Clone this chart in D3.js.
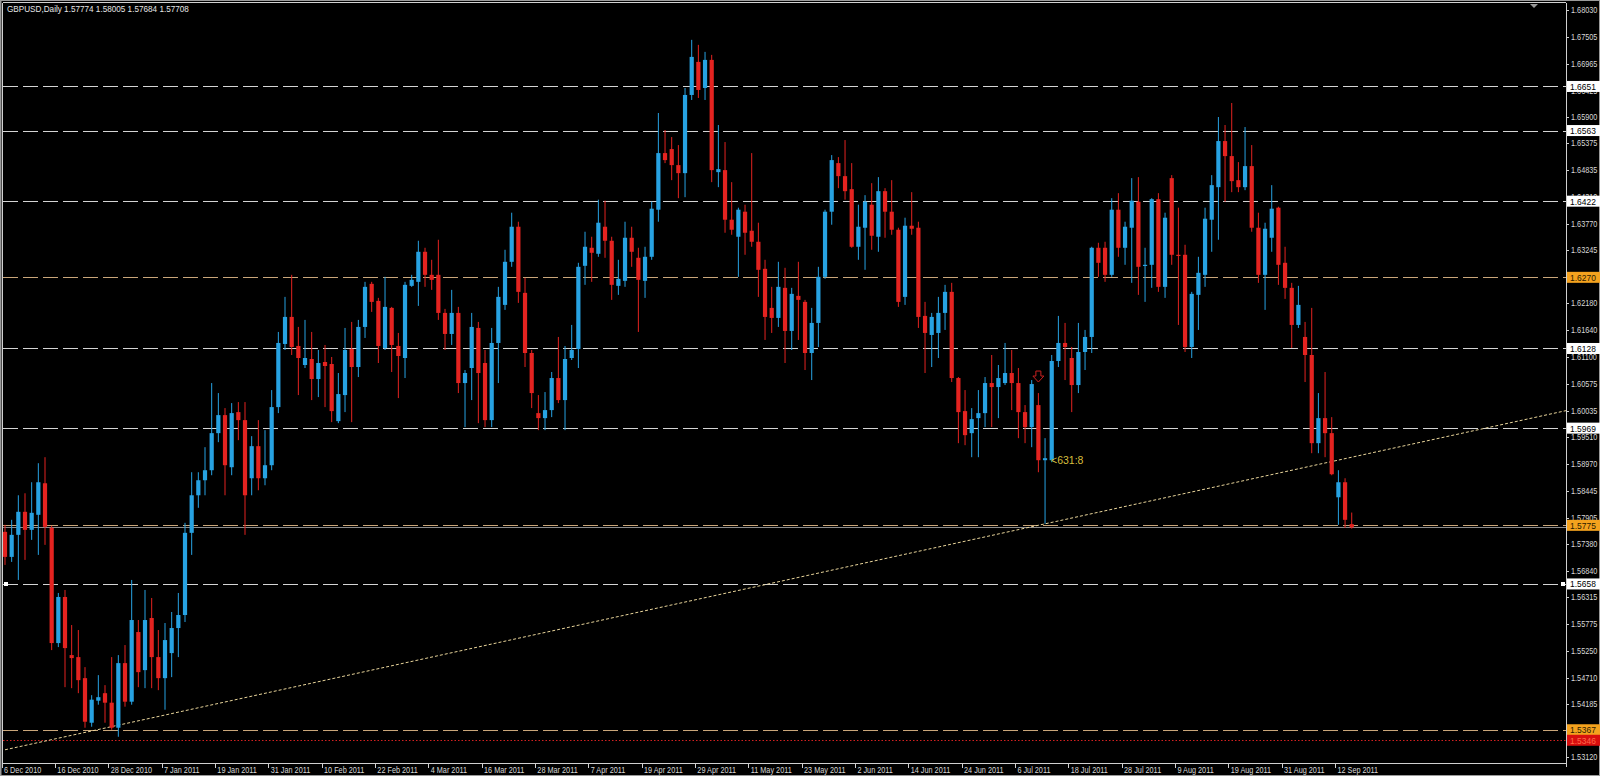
<!DOCTYPE html>
<html><head><meta charset="utf-8">
<script src="https://cdn.jsdelivr.net/npm/d3@7"></script>
<style>html,body{margin:0;padding:0;background:#000;overflow:hidden}svg{display:block}</style>
</head><body><svg id="c" width="1600" height="776"></svg>
<script>
// ---------- data ----------
const opens = [1.5762,1.5712,1.5756,1.5802,1.5766,1.5796,1.5859,1.5770,1.5540,1.5632,
1.5516,1.5512,1.5470,1.5381,1.5425,1.5440,1.5421,1.5371,1.5500,1.5423,
1.5562,1.5486,1.5590,1.5512,1.5470,1.5520,1.5570,1.5596,1.5760,1.5835,
1.5865,1.5885,1.5959,1.5995,1.5891,1.6001,1.5985,1.5869,1.5933,1.5869,
1.5895,1.6011,1.6137,1.6191,1.6133,1.6095,1.6107,1.6067,1.6101,1.6097,
1.5983,1.6035,1.6127,1.6091,1.6171,1.6257,1.6223,1.6129,1.6209,1.6133,
1.6109,1.6253,1.6261,1.6321,1.6275,1.6275,1.6199,1.6157,1.6199,1.6059,
1.6089,1.6169,1.6099,1.5985,1.6139,1.6215,1.6301,1.6371,1.6239,1.6119,
1.5999,1.5989,1.6005,1.6069,1.6025,1.6109,1.6127,1.6293,1.6329,1.6317,
1.6371,1.6343,1.6253,1.6263,1.6349,1.6309,1.6263,1.6311,1.6405,1.6518,
1.6526,1.6494,1.6478,1.6634,1.6700,1.6648,1.6704,1.6480,1.6484,1.6385,
1.6351,1.6401,1.6363,1.6341,1.6287,1.6209,1.6189,1.6249,1.6163,1.6233,
1.6221,1.6119,1.6179,1.6271,1.6401,1.6498,1.6472,1.6446,1.6331,1.6369,
1.6415,1.6351,1.6442,1.6401,1.6365,1.6231,1.6373,1.6369,1.6193,1.6155,
1.6159,1.6199,1.6241,1.6069,1.6003,1.5959,1.5989,1.5999,1.6059,1.6051,
1.6059,1.6079,1.6059,1.6001,1.5971,1.6015,1.5905,1.5905,1.6103,1.6139,
1.6109,1.6055,1.6121,1.6151,1.6329,1.6329,1.6275,1.6405,1.6329,1.6369,
1.6421,1.6293,1.6295,1.6426,1.6251,1.6468,1.6315,1.6315,1.6131,1.6235,
1.6275,1.6385,1.6450,1.6542,1.6512,1.6464,1.6450,1.6492,1.6369,1.6275,
1.6349,1.6409,1.6299,1.6249,1.6175,1.6151,1.6115,1.5939,1.5989,1.5959,
1.5831,1.5861,1.57774];
const highs = [1.5776,1.5786,1.5835,1.5839,1.5861,1.5899,1.5911,1.5774,1.5640,1.5646,
1.5576,1.5566,1.5492,1.5436,1.5476,1.5456,1.5512,1.5516,1.5536,1.5666,
1.5586,1.5646,1.5630,1.5566,1.5580,1.5602,1.5640,1.5780,1.5881,1.5881,
1.5931,1.6059,1.6039,1.6009,1.6019,1.6021,1.6021,1.5953,1.5985,1.5965,
1.6045,1.6161,1.6231,1.6275,1.6171,1.6185,1.6161,1.6125,1.6135,1.6111,
1.6079,1.6169,1.6181,1.6185,1.6261,1.6261,1.6229,1.6271,1.6211,1.6159,
1.6261,1.6275,1.6343,1.6329,1.6305,1.6345,1.6207,1.6245,1.6211,1.6085,
1.6199,1.6181,1.6125,1.6169,1.6251,1.6325,1.6399,1.6381,1.6269,1.6125,
1.6035,1.6041,1.6081,1.6151,1.6133,1.6175,1.6299,1.6361,1.6351,1.6425,
1.6423,1.6351,1.6305,1.6381,1.6371,1.6329,1.6331,1.6421,1.6598,1.6564,
1.6550,1.6534,1.6648,1.6744,1.6734,1.6720,1.6714,1.6574,1.6540,1.6460,
1.6409,1.6415,1.6518,1.6379,1.6305,1.6251,1.6301,1.6289,1.6249,1.6301,
1.6225,1.6209,1.6291,1.6405,1.6514,1.6510,1.6544,1.6498,1.6415,1.6434,
1.6458,1.6470,1.6448,1.6464,1.6369,1.6389,1.6440,1.6381,1.6221,1.6199,
1.6231,1.6255,1.6259,1.6071,1.6045,1.6009,1.6045,1.6071,1.6115,1.6095,
1.6139,1.6125,1.6089,1.6015,1.6065,1.6039,1.5949,1.6115,1.6193,1.6179,
1.6131,1.6179,1.6165,1.6331,1.6339,1.6341,1.6428,1.6438,1.6381,1.6468,
1.6470,1.6329,1.6428,1.6438,1.6399,1.6474,1.6409,1.6335,1.6241,1.6311,
1.6409,1.6474,1.6590,1.6574,1.6618,1.6500,1.6570,1.6534,1.6399,1.6379,
1.6454,1.6411,1.6331,1.6259,1.6253,1.6181,1.6209,1.6039,1.6081,1.5991,
1.5885,1.5869,1.58005];
const lows = [1.5696,1.5702,1.5666,1.5706,1.5746,1.5716,1.5736,1.5526,1.5532,1.5452,
1.5450,1.5440,1.5371,1.5373,1.5417,1.5381,1.5367,1.5353,1.5413,1.5417,
1.5452,1.5450,1.5450,1.5446,1.5407,1.5472,1.5512,1.5582,1.5716,1.5810,
1.5835,1.5875,1.5941,1.5835,1.5875,1.5945,1.5756,1.5835,1.5845,1.5855,
1.5885,1.5999,1.6125,1.6115,1.6035,1.6089,1.6025,1.6031,1.6011,1.5981,
1.5979,1.6001,1.5981,1.6071,1.6149,1.6201,1.6099,1.6125,1.6081,1.6029,
1.6069,1.6251,1.6213,1.6251,1.6245,1.6185,1.6125,1.6135,1.6039,1.5971,
1.6025,1.5979,1.5971,1.5971,1.6059,1.6205,1.6291,1.6219,1.6091,1.6009,
1.5965,1.5965,1.5991,1.6019,1.5965,1.6105,1.6089,1.6255,1.6261,1.6311,
1.6309,1.6225,1.6235,1.6251,1.6291,1.6161,1.6229,1.6305,1.6381,1.6498,
1.6464,1.6428,1.6430,1.6624,1.6628,1.6624,1.6460,1.6450,1.6359,1.6355,
1.6271,1.6315,1.6331,1.6231,1.6145,1.6159,1.6171,1.6099,1.6125,1.6145,
1.6085,1.6065,1.6131,1.6267,1.6375,1.6448,1.6425,1.6329,1.6305,1.6285,
1.6325,1.6321,1.6349,1.6355,1.6211,1.6215,1.6355,1.6169,1.6079,1.6091,
1.6109,1.6165,1.6061,1.5939,1.5935,1.5911,1.5911,1.5971,1.5971,1.5989,
1.6055,1.6005,1.5949,1.5939,1.5931,1.5881,1.5778,1.5901,1.6091,1.6065,
1.6001,1.6039,1.6085,1.6119,1.6271,1.6261,1.6271,1.6311,1.6295,1.6259,
1.6235,1.6221,1.6249,1.6241,1.6229,1.6295,1.6175,1.6121,1.6109,1.6165,
1.6251,1.6321,1.6345,1.6421,1.6440,1.6440,1.6444,1.6361,1.6259,1.6205,
1.6321,1.6255,1.6227,1.6129,1.6169,1.6061,1.5919,1.5919,1.5911,1.5875,
1.5776,1.5770,1.57684];
const closes = [1.5712,1.5756,1.5802,1.5766,1.5800,1.5861,1.5772,1.5540,1.5632,1.5530,
1.5510,1.5466,1.5383,1.5427,1.5432,1.5421,1.5371,1.5500,1.5423,1.5586,
1.5482,1.5586,1.5512,1.5470,1.5546,1.5570,1.5596,1.5760,1.5835,1.5865,
1.5885,1.5959,1.5995,1.5895,1.5999,1.5985,1.5835,1.5933,1.5869,1.5895,
1.6011,1.6139,1.6191,1.6131,1.6109,1.6109,1.6067,1.6099,1.6093,1.6003,
1.6037,1.6125,1.6091,1.6171,1.6251,1.6221,1.6133,1.6211,1.6135,1.6113,
1.6255,1.6265,1.6321,1.6275,1.6265,1.6199,1.6157,1.6199,1.6059,1.6079,
1.6171,1.6079,1.5985,1.6139,1.6231,1.6301,1.6371,1.6241,1.6119,1.6039,
1.5989,1.6005,1.6069,1.6025,1.6107,1.6125,1.6291,1.6331,1.6319,1.6379,
1.6343,1.6255,1.6267,1.6349,1.6321,1.6265,1.6311,1.6407,1.6518,1.6504,
1.6494,1.6478,1.6634,1.6710,1.6644,1.6704,1.6484,1.6486,1.6385,1.6365,
1.6405,1.6359,1.6341,1.6285,1.6191,1.6189,1.6251,1.6163,1.6237,1.6225,
1.6119,1.6179,1.6271,1.6401,1.6504,1.6472,1.6442,1.6331,1.6371,1.6421,
1.6353,1.6442,1.6401,1.6365,1.6221,1.6373,1.6367,1.6191,1.6159,1.6191,
1.6199,1.6241,1.6069,1.6001,1.5955,1.5987,1.5999,1.6059,1.6051,1.6069,
1.6079,1.6059,1.6001,1.5971,1.6057,1.5905,1.5909,1.6103,1.6139,1.6131,
1.6055,1.6121,1.6151,1.6329,1.6299,1.6275,1.6405,1.6329,1.6371,1.6423,
1.6291,1.6295,1.6426,1.6251,1.6389,1.6315,1.6313,1.6131,1.6237,1.6279,
1.6387,1.6454,1.6542,1.6512,1.6462,1.6450,1.6492,1.6369,1.6275,1.6367,
1.6407,1.6295,1.6249,1.6175,1.6215,1.6115,1.5939,1.5989,1.5959,1.5877,
1.5861,1.5786,1.57708];

const dateLabels = ["6 Dec 2010","16 Dec 2010","28 Dec 2010","7 Jan 2011","19 Jan 2011","31 Jan 2011",
"10 Feb 2011","22 Feb 2011","4 Mar 2011","16 Mar 2011","28 Mar 2011","7 Apr 2011","19 Apr 2011",
"29 Apr 2011","11 May 2011","23 May 2011","2 Jun 2011","14 Jun 2011","24 Jun 2011","6 Jul 2011",
"18 Jul 2011","28 Jul 2011","9 Aug 2011","19 Aug 2011","31 Aug 2011","12 Sep 2011"];
const dateLabelBars = [0,8,16,24,32,40,48,56,64,72,80,88,96,104,112,120,128,136,144,152,160,168,176,184,192,200];

const priceTicks = ["1.68030","1.67505","1.66965","1.66425","1.65900","1.65375","1.64835","1.64310","1.63770",
"1.63245","1.62705","1.62180","1.61640","1.61100","1.60575","1.60035","1.59510","1.58970","1.58445",
"1.57905","1.57380","1.56840","1.56315","1.55775","1.55250","1.54710","1.54185","1.53645","1.53120"];

const levelPrices = [1.6651,1.6563,1.6422,1.6270,1.6128,1.5969,1.5775,1.5658,1.5367,1.5346];
const levelLabels = ["1.6651","1.6563","1.6422","1.6270","1.6128","1.5969","1.5775","1.5658","1.5367","1.5346"];
const levelKinds = ["white","white","white","orange","white","white","orange","white","orange","red"];

const bidPrice = 1.57708;
const trendBars = [0,156];
const trendPrices = [1.5327,1.5778];

const titleText = "GBPUSD,Daily  1.57774 1.58005 1.57684 1.57708";
const noteText = "<631:8";
const noteBar = 156, notePrice = 1.5905;
const arrowBar = 155, arrowPrice = 1.6071;

// ---------- drawing ----------
const svg = d3.select("#c");
const P = {left:3, right:1566, top:3, bottom:763};
const x = d3.scaleLinear().domain([0,202]).range([5, 5+202*6.667]);
const y = d3.scaleLinear().domain([1.5312,1.6803]).range([757.3,10.3]);
const FONT = "'Liberation Sans', Arial, sans-serif";

svg.append("rect").attr("width",1600).attr("height",776).attr("fill","#000");
// outer frame
svg.append("rect").attr("x",0.5).attr("y",0.5).attr("width",1599).attr("height",775)
  .attr("fill","none").attr("stroke","#9a9a9a");
svg.append("line").attr("x1",1).attr("x2",1).attr("y1",0).attr("y2",776).attr("stroke","#9a9a9a");

const clip = svg.append("defs").append("clipPath").attr("id","pc");
clip.append("rect").attr("x",P.left).attr("y",P.top).attr("width",P.right-P.left).attr("height",P.bottom-P.top);
const g = svg.append("g").attr("clip-path","url(#pc)");

// level lines
const lvlColor = {white:"#d4d4d4", orange:"#c9a67a", red:"#d42020"};
levelPrices.forEach((p,i)=>{
  const k = levelKinds[i];
  g.append("line").attr("x1",P.left).attr("x2",P.right)
   .attr("y1",Math.round(y(p))+0.5).attr("y2",Math.round(y(p))+0.5)
   .attr("stroke",lvlColor[k]).attr("stroke-width",1)
   .attr("stroke-dasharray", k==="red" ? "1.5,2" : "15,5");
});
// bid line
g.append("line").attr("x1",P.left).attr("x2",P.right)
  .attr("y1",Math.round(y(bidPrice))+0.5).attr("y2",Math.round(y(bidPrice))+0.5)
  .attr("stroke","#8c8c8c").attr("stroke-width",1);

// trend line (ray to right edge)
const tx0 = x(trendBars[0]), ty0 = y(trendPrices[0]);
const tx1 = x(trendBars[1]), ty1 = y(trendPrices[1]);
const slope = (ty1-ty0)/(tx1-tx0);
g.append("line").attr("x1",tx0).attr("y1",ty0)
  .attr("x2",P.right).attr("y2",ty0+slope*(P.right-tx0))
  .attr("stroke","#e8d49a").attr("stroke-width",1).attr("stroke-dasharray","3,2");

// candles
const bull = "#27a2e2", bear = "#e42320";
const idx = d3.range(opens.length);
g.selectAll("line.wick").data(idx).join("line").attr("class","wick")
  .attr("x1",i=>x(i)).attr("x2",i=>x(i))
  .attr("y1",i=>y(highs[i])).attr("y2",i=>y(lows[i]))
  .attr("stroke",i=>closes[i]>=opens[i]?bull:bear).attr("stroke-width",1);
g.selectAll("rect.body").data(idx).join("rect").attr("class","body")
  .attr("x",i=>x(i)-2.1).attr("width",4.2)
  .attr("y",i=>y(Math.max(opens[i],closes[i])))
  .attr("height",i=>Math.max(1.2,Math.abs(y(opens[i])-y(closes[i]))))
  .attr("fill",i=>closes[i]>=opens[i]?bull:bear);

// selected-line markers on 1.5658
const selY = Math.round(y(levelPrices[7]));
svg.append("rect").attr("x",4).attr("y",selY-2).attr("width",4).attr("height",4).attr("fill","#fff");
svg.append("rect").attr("x",1561).attr("y",selY-2).attr("width",4).attr("height",4).attr("fill","#fff");

// note label and arrow symbol
svg.append("text").attr("x",x(noteBar)+6).attr("y",y(notePrice)+4)
  .attr("font-family",FONT).attr("font-size",10.5).attr("fill","#d6bf3e").text(noteText);
const ax = x(arrowBar), ay = y(arrowPrice);
svg.append("path").attr("d",`M${ax-2.5},${ay-6} h5 v5 h3 l-5.5,6 l-5.5,-6 h3 z`)
  .attr("fill","none").attr("stroke","#c82020").attr("stroke-width",1);

// plot border
svg.append("line").attr("x1",P.left).attr("x2",P.right).attr("y1",P.top-0.5).attr("y2",P.top-0.5).attr("stroke","#d0d0d0");
svg.append("line").attr("x1",P.left-0.5).attr("x2",P.left-0.5).attr("y1",P.top).attr("y2",P.bottom).attr("stroke","#d0d0d0");
svg.append("line").attr("x1",P.left).attr("x2",P.right).attr("y1",P.bottom+0.5).attr("y2",P.bottom+0.5).attr("stroke","#d0d0d0");
svg.append("line").attr("x1",P.right+0.5).attr("x2",P.right+0.5).attr("y1",P.top).attr("y2",P.bottom+4).attr("stroke","#d0d0d0");

// chart-shift triangle
svg.append("path").attr("d","M1530,4 h8 l-4,4 z").attr("fill","#9a9a9a");

// price axis
priceTicks.forEach(t=>{
  const yy = y(+t);
  svg.append("line").attr("x1",P.right).attr("x2",P.right+3).attr("y1",Math.round(yy)+0.5).attr("y2",Math.round(yy)+0.5).attr("stroke","#d0d0d0");
  svg.append("text").attr("transform",`translate(1571,${yy+3}) scale(0.88,1)`)
    .attr("font-family",FONT).attr("font-size",8.3).attr("fill","#d8d8d8").text(t);
});
// level boxes
const boxFill = {white:"#ffffff", orange:"#f4a21e", red:"#d80e0e"};
const boxText = {white:"#000", orange:"#2a1a00", red:"#ff6a4a"};
levelPrices.forEach((p,i)=>{
  const k = levelKinds[i], yy = y(p);
  svg.append("rect").attr("x",1567).attr("y",yy-5.5).attr("width",33).attr("height",11).attr("fill",boxFill[k]);
  svg.append("text").attr("transform",`translate(1570,${yy+3.5}) scale(0.92,1)`)
    .attr("font-family",FONT).attr("font-size",9.2).attr("fill",boxText[k]).text(levelLabels[i]);
});

// time axis
dateLabels.forEach((d,i)=>{
  const xx = x(dateLabelBars[i]);
  svg.append("line").attr("x1",Math.round(xx-3.5)+0.5).attr("x2",Math.round(xx-3.5)+0.5)
    .attr("y1",P.bottom).attr("y2",P.bottom+5).attr("stroke","#d0d0d0");
  svg.append("text").attr("transform",`translate(${xx-1},${P.bottom+10}) scale(0.88,1)`)
    .attr("font-family",FONT).attr("font-size",8.3).attr("fill","#d8d8d8").text(d);
});

// title
svg.append("text").attr("transform","translate(7,12) scale(0.95,1)")
  .attr("font-family",FONT).attr("font-size",8.6).attr("fill","#e6e6e6").text(titleText);
</script>
</body></html>
